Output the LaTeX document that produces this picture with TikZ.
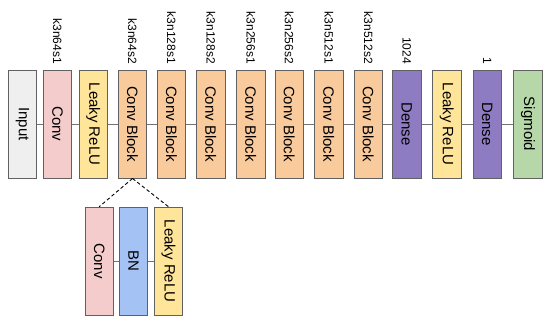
\documentclass[tikz,border=0pt]{standalone}
\usepackage{fontspec}
\setmainfont{Liberation Sans}
\begin{document}
\begin{tikzpicture}[x=1pt,y=-1pt,
  blk/.style={draw=black!62, line width=0.9pt, minimum width=28.5pt, minimum height=108pt, inner sep=0pt, font=\fontsize{15}{18}\selectfont},
  lbl/.style={rotate=-90, anchor=east, inner sep=0pt, font=\fontsize{12}{14}\selectfont},
  conn/.style={draw=black!55, line width=0.9pt},
  dsh/.style={draw=black, line width=0.9pt, dash pattern=on 3.5pt off 2.5pt}]
\definecolor{cinput}{HTML}{EFEFEF}
\definecolor{cconv}{HTML}{F4CCCC}
\definecolor{cleaky}{HTML}{FFE599}
\definecolor{cblock}{HTML}{F9CB9C}
\definecolor{cdense}{HTML}{8E7CC3}
\definecolor{csig}{HTML}{B6D7A8}
\definecolor{cbn}{HTML}{A4C2F4}
\useasboundingbox (0,0) rectangle (550,323);
% top row
\node[blk, fill=cinput] (n1) at (22.5,124) {\rotatebox{-90}{Input}};
\node[blk, fill=cconv] (n2) at (57.5,124) {\rotatebox{-90}{Conv}};
\node[blk, fill=cleaky] (n3) at (93.3,124) {\rotatebox{-90}{Leaky ReLU}};
\node[blk, fill=cblock] (n4) at (132.5,124) {\rotatebox{-90}{Conv Block}};
\node[blk, fill=cblock] (n5) at (171.5,124) {\rotatebox{-90}{Conv Block}};
\node[blk, fill=cblock] (n6) at (210.8,124) {\rotatebox{-90}{Conv Block}};
\node[blk, fill=cblock] (n7) at (250.8,124) {\rotatebox{-90}{Conv Block}};
\node[blk, fill=cblock] (n8) at (289.2,124) {\rotatebox{-90}{Conv Block}};
\node[blk, fill=cblock] (n9) at (328.8,124) {\rotatebox{-90}{Conv Block}};
\node[blk, fill=cblock] (n10) at (368.3,124) {\rotatebox{-90}{Conv Block}};
\node[blk, fill=cdense] (n11) at (406.8,124) {\rotatebox{-90}{Dense}};
\node[blk, fill=cleaky] (n12) at (446.7,124) {\rotatebox{-90}{Leaky ReLU}};
\node[blk, fill=cdense] (n13) at (487.2,124) {\rotatebox{-90}{Dense}};
\node[blk, fill=csig] (n14) at (528,124) {\rotatebox{-90}{Sigmoid}};
\foreach \a/\b in {n1/n2,n2/n3,n3/n4,n4/n5,n5/n6,n6/n7,n7/n8,n8/n9,n9/n10,n10/n11,n11/n12,n12/n13,n13/n14}
  \draw[conn] (\a) -- (\b);
% labels
\node[lbl] (l2) at (57.5,64) {k3n64s1};
\node[lbl] (l4) at (132.5,64) {k3n64s2};
\node[lbl] (l5) at (171.5,64) {k3n128s1};
\node[lbl] (l6) at (210.8,64) {k3n128s2};
\node[lbl] (l7) at (250.8,64) {k3n256s1};
\node[lbl] (l8) at (289.2,64) {k3n256s2};
\node[lbl] (l9) at (328.8,64) {k3n512s1};
\node[lbl] (l10) at (368.3,64) {k3n512s2};
\node[lbl] (l11) at (406.8,64) {1024};
\node[lbl] (l13) at (487.2,64) {1};
% bottom row
\node[blk, fill=cconv] (b1) at (99.2,261.2) {\rotatebox{-90}{Conv}};
\node[blk, fill=cbn] (b2) at (133.5,261.2) {\rotatebox{-90}{BN}};
\node[blk, fill=cleaky] (b3) at (168.5,261.2) {\rotatebox{-90}{Leaky ReLU}};
\draw[conn] (b1) -- (b2);
\draw[conn] (b2) -- (b3);
\draw[dsh] (n4.south) -- (b1.north);
\draw[dsh] (n4.south) -- (b3.north);
\end{tikzpicture}
\end{document}
